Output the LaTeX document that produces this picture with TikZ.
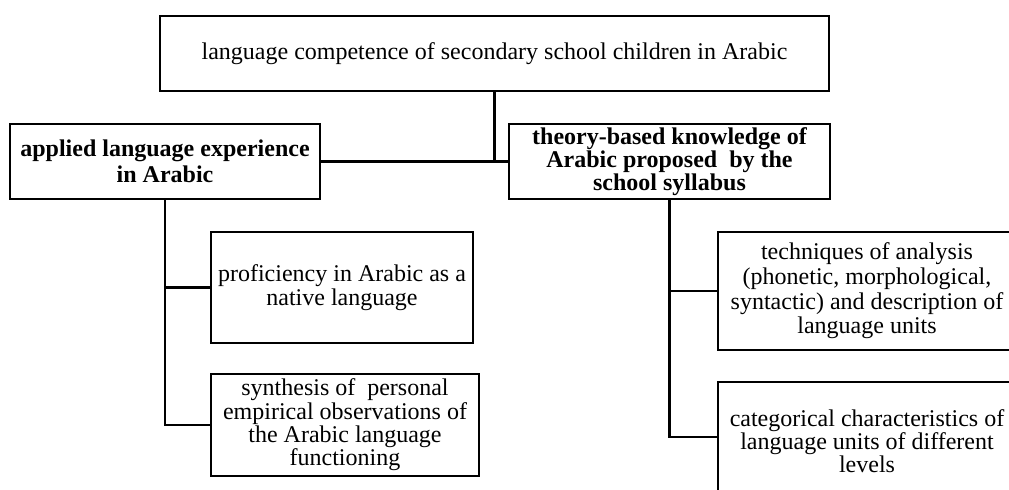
\documentclass[tikz,border=0pt]{standalone}
\usepackage{fontspec}
\setmainfont{Liberation Serif}
\begin{document}
\begin{tikzpicture}[x=0.75pt,y=-0.75pt,
  box/.style={draw,line width=1.4pt,rectangle,align=center,inner sep=0pt,font=\fontsize{18}{17.5}\selectfont},
  bbox/.style={box,font=\fontsize{18}{17.5}\selectfont\bfseries},
  link/.style={line width=1.6pt}]
\useasboundingbox (0,0) rectangle (1009,489);
\clip (0,0) rectangle (1009,489);
\node[box,minimum width=669*0.75pt,minimum height=75*0.75pt] (top) at (494.5,53.5) {language competence of secondary school children in Arabic};
\node[bbox,font=\fontsize{18}{19.5}\selectfont\bfseries,minimum width=310*0.75pt,minimum height=75*0.75pt] (left) at (165,161.5) {applied language experience\\in Arabic};
\node[bbox,minimum width=321*0.75pt,minimum height=75*0.75pt] (right) at (669.5,161.5) {theory-based knowledge of\\Arabic proposed\ \ by the\\school syllabus};
\node[box,minimum width=262*0.75pt,minimum height=111*0.75pt] (prof) at (342,287.5) {proficiency in Arabic as a\\native language};
\node[box,minimum width=268*0.75pt,minimum height=102*0.75pt] (synth) at (345,425) {synthesis of\ \ personal\\empirical observations of\\the Arabic language\\functioning};
\node[box,font=\fontsize{18}{18.5}\selectfont,minimum width=298*0.75pt,minimum height=118*0.75pt] (tech) at (867,291) {techniques of analysis\\(phonetic, morphological,\\syntactic) and description of\\language units};
\node[box,minimum width=298*0.75pt,minimum height=118*0.75pt] (cat) at (867,441) {categorical characteristics of\\language units of different\\levels};
\draw[link] (top.south) -- (top.south |- left.east);
\draw[link] (left.east) -- (right.west);
\draw[link] (left.south) |- (prof.west);
\draw[link] (left.south) |- (synth.west);
\draw[link] (right.south) |- (tech.west);
\draw[link] (right.south) |- ([yshift=3pt]cat.west);
\end{tikzpicture}
\end{document}
